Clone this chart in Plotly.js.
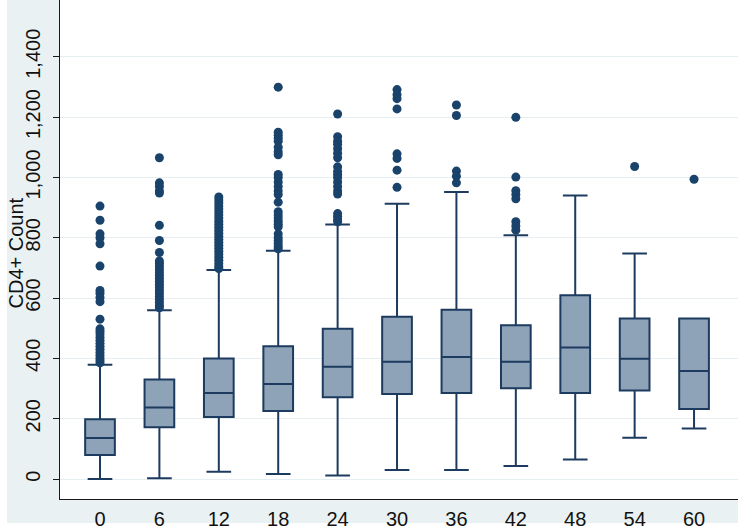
<!DOCTYPE html>
<html>
<head>
<meta charset="utf-8">
<script src="https://cdn.plot.ly/plotly-3.0.1.min.js"></script>
<style>html,body{margin:0;padding:0;background:#fff;}#chart{width:745px;height:532px;}</style>
</head>
<body>
<div id="chart"></div>
<script>
// Months since start (x categories)
const months = [0, 6, 12, 18, 24, 30, 36, 42, 48, 54, 60];
const tickLabels = ["0", "6", "12", "18", "24", "30", "36", "42", "48", "54", "60"];
const yTickVals = [0, 200, 400, 600, 800, 1000, 1200, 1400];
const yTickText = ['0', '200', '400', '600', '800', '1,000', '1,200', '1,400'];
const yTitle = 'CD4+ Count';
// Box statistics (CD4+ count)
const lowerWhisker = [0, 3, 24, 17, 12, 30, 30, 43, 65, 137, 168];
const q1 = [80, 172, 206, 226, 271, 282, 285, 301, 285, 294, 232];
const median = [136, 237, 285, 315, 372, 389, 405, 389, 436, 399, 358];
const q3 = [198, 330, 400, 440, 498, 538, 561, 510, 609, 532, 532];
const upperWhisker = [379, 560, 693, 757, 844, 913, 952, 808, 940, 748, 532];
// Outside values per month
const outliers0 = [905, 858, 813, 800, 780, 706, 625, 616, 602, 588, 530, 498, 490, 481, 470, 460, 450, 440, 430, 420, 410, 400, 392, 385];
const outliers6 = [1065, 982, 970, 955, 948, 841, 791, 751, 723, 715, 705, 695, 685, 675, 665, 655, 645, 635, 625, 615, 605, 595, 585, 575, 568];
const outliers12 = [935, 925, 915, 905, 895, 885, 875, 865, 855, 845, 835, 825, 815, 805, 795, 785, 775, 765, 755, 745, 735, 725, 715, 705, 698];
const outliers18 = [1299, 1150, 1140, 1130, 1120, 1100, 1085, 1075, 1010, 1000, 985, 970, 955, 943, 918, 886, 875, 865, 855, 845, 836, 813, 800, 790, 780, 770, 763];
const outliers24 = [1210, 1135, 1120, 1110, 1095, 1080, 1065, 1035, 1020, 1010, 1000, 985, 970, 955, 945, 880, 870, 860, 853];
const outliers30 = [1291, 1274, 1261, 1227, 1078, 1063, 1024, 967];
const outliers36 = [1240, 1205, 1021, 1004, 982];
const outliers42 = [1199, 1001, 956, 943, 929, 853, 839, 825];
const outliers48 = [];
const outliers54 = [1036];
const outliers60 = [994];

const outlierSets = [outliers0, outliers6, outliers12, outliers18, outliers24, outliers30,
  outliers36, outliers42, outliers48, outliers54, outliers60];

const lineColor = '#1d3b5e';
const fillColor = '#8ea3b8';
const dotColor = '#1a436b';

const outX = [], outY = [];
outlierSets.forEach((arr, i) => arr.forEach(v => { outX.push(months[i]); outY.push(v); }));

const boxTrace = {
  type: 'box',
  x: months,
  q1: q1,
  median: median,
  q3: q3,
  lowerfence: lowerWhisker,
  upperfence: upperWhisker,
  width: 3,
  whiskerwidth: 0.83,
  fillcolor: fillColor,
  line: {color: lineColor, width: 2},
  boxpoints: false,
  hoverinfo: 'skip',
  showlegend: false
};

const dotTrace = {
  type: 'scatter',
  mode: 'markers',
  x: outX,
  y: outY,
  marker: {color: dotColor, size: 9, line: {width: 0}},
  hoverinfo: 'skip',
  showlegend: false
};

const font = "Liberation Sans, Arial, Helvetica, sans-serif";

const layout = {
  width: 745,
  height: 532,
  margin: {l: 60, r: 7, t: 0, b: 33, pad: 0},
  paper_bgcolor: '#ffffff',
  plot_bgcolor: 'rgba(0,0,0,0)',
  font: {family: font, color: '#111111', size: 20},
  shapes: [
    {type: 'rect', xref: 'paper', yref: 'paper', x0: -0.0782, x1: 1, y0: -0.0481, y1: 1.1,
      fillcolor: '#eaf1f3', line: {width: 0}, layer: 'below'},
    {type: 'rect', xref: 'paper', yref: 'paper', x0: 0, x1: 1, y0: 0, y1: 1.1,
      fillcolor: '#ffffff', line: {width: 0}, layer: 'below'}
  ],
  annotations: [
    {text: yTitle, xref: 'paper', yref: 'paper', x: 0, y: 0.493, xanchor: 'center', yanchor: 'middle',
      xshift: -44.5, textangle: -90, showarrow: false,
      font: {size: 20, family: font, color: '#111111'}}
  ],
  xaxis: {
    range: [-4.04, 64.44],
    tickmode: 'array',
    tickvals: months,
    ticktext: tickLabels,
    showgrid: false,
    zeroline: false,
    showline: true,
    linecolor: '#1a1a1a',
    linewidth: 1.2,
    ticks: '',
    tickfont: {size: 20, family: font, color: '#111111'},
    ticklabelstandoff: 2
  },
  yaxis: {
    range: [-66, 1588],
    tickmode: 'array',
    tickvals: yTickVals,
    ticktext: yTickText,
    tickangle: -90,
    showgrid: true,
    gridcolor: '#e6eef1',
    gridwidth: 1,
    zeroline: false,
    showline: true,
    linecolor: '#1a1a1a',
    linewidth: 1.2,
    ticks: 'outside',
    ticklen: 6,
    tickcolor: '#1a1a1a',
    tickwidth: 1,
    tickfont: {size: 20, family: font, color: '#111111'},
    ticklabelstandoff: 5
  }
};

Plotly.newPlot('chart', [boxTrace, dotTrace], layout, {displayModeBar: false, staticPlot: true});
</script>
</body>
</html>
